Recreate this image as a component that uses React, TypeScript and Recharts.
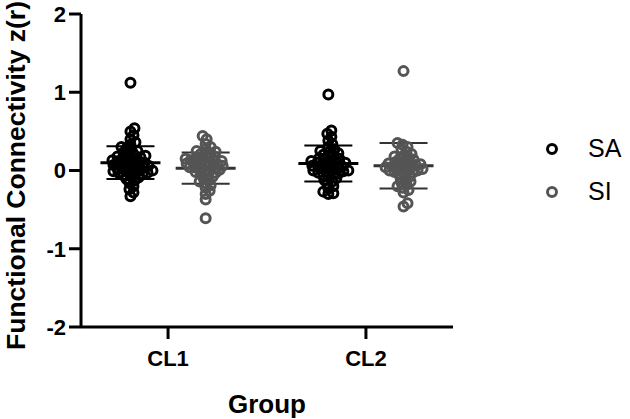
import React from "react";
import { ScatterChart, Scatter, XAxis, YAxis, ErrorBar, Legend } from "recharts";

// ---- data ----
const categories = ["CL1", "CL2"];
const seriesNames = ["SA", "SI"];
const yTicks = [-2, -1, 0, 1, 2];

const cl1SA = [1.12, 0.54, 0.5, 0.45, 0.4, 0.36, 0.33, 0.3, 0.28, 0.27, 0.25, 0.23, 0.22, 0.21, 0.19, 0.18, 0.17, 0.16, 0.15, 0.14, 0.13, 0.12, 0.11, 0.1, 0.1, 0.09, 0.08, 0.07, 0.06, 0.05, 0.05, 0.04, 0.03, 0.02, 0.01, 0.0, 0.0, -0.01, -0.02, -0.03, -0.03, -0.04, -0.05, -0.06, -0.07, -0.09, -0.11, -0.13, -0.16, -0.2, -0.24, -0.28, -0.33];
const cl1SI = [0.44, 0.4, 0.34, 0.3, 0.27, 0.25, 0.24, 0.22, 0.21, 0.2, 0.18, 0.17, 0.16, 0.15, 0.14, 0.13, 0.12, 0.12, 0.11, 0.1, 0.09, 0.08, 0.08, 0.07, 0.06, 0.05, 0.04, 0.04, 0.03, 0.02, 0.01, 0.0, -0.01, -0.02, -0.03, -0.05, -0.06, -0.08, -0.1, -0.12, -0.14, -0.16, -0.19, -0.22, -0.26, -0.3, -0.37, -0.61];
const cl2SA = [0.97, 0.51, 0.47, 0.43, 0.38, 0.34, 0.3, 0.27, 0.25, 0.24, 0.22, 0.2, 0.19, 0.18, 0.16, 0.15, 0.14, 0.13, 0.12, 0.11, 0.1, 0.1, 0.09, 0.08, 0.07, 0.06, 0.05, 0.05, 0.04, 0.03, 0.02, 0.01, 0.0, 0.0, -0.01, -0.02, -0.03, -0.04, -0.05, -0.06, -0.08, -0.1, -0.12, -0.14, -0.17, -0.2, -0.23, -0.27, -0.29, -0.3];
const cl2SI = [1.27, 0.35, 0.33, 0.3, 0.27, 0.24, 0.21, 0.19, 0.18, 0.16, 0.15, 0.14, 0.12, 0.11, 0.1, 0.09, 0.08, 0.08, 0.07, 0.06, 0.05, 0.04, 0.04, 0.03, 0.02, 0.01, 0.0, 0.0, -0.01, -0.02, -0.03, -0.04, -0.06, -0.08, -0.1, -0.12, -0.14, -0.16, -0.18, -0.2, -0.22, -0.25, -0.28, -0.42, -0.46];

const meanSA = [0.1, 0.09];
const sdSA = [0.21, 0.23];
const meanSI = [0.03, 0.06];
const sdSI = [0.2, 0.29];

// ---- layout ----
const W = 630;
const H = 419;
const MARGIN = { top: 14, right: 177, bottom: 0, left: 0 };
const Y_AXIS_W = 81;
const X_AXIS_H = 92;
const X_DOMAIN: [number, number] = [0.56, 2.44];
const Y_DOMAIN: [number, number] = [-2, 2];
const PLOT_W = W - MARGIN.left - MARGIN.right - Y_AXIS_W;
const PLOT_H = H - MARGIN.top - MARGIN.bottom - X_AXIS_H;
const X_PX = PLOT_W / (X_DOMAIN[1] - X_DOMAIN[0]);
const Y_PX = PLOT_H / (Y_DOMAIN[1] - Y_DOMAIN[0]);
const GROUP_OFFSET = 0.19;
const FONT = "'Liberation Sans', Arial, Helvetica, sans-serif";
const COLORS = ["#000000", "#555555"];
const MEAN_COLORS = ["#000000", "#333333"];

function swarm(values: number[], minDist: number): number[] {
  const order = values.map((_, i) => i).sort((a, b) => values[a] - values[b]);
  const placed: { x: number; y: number }[] = [];
  const offs = new Array(values.length).fill(0);
  for (const i of order) {
    const py = values[i] * Y_PX;
    let best = 0;
    for (let k = 0; k < 80; k++) {
      const cand = k === 0 ? 0 : k % 2 ? Math.ceil(k / 2) : -Math.ceil(k / 2);
      const ok = placed.every((p) => (p.x - cand) ** 2 + (p.y - py) ** 2 >= minDist * minDist);
      if (ok) {
        best = cand;
        break;
      }
    }
    placed.push({ x: best, y: py });
    offs[i] = best;
  }
  return offs;
}

function buildPoints(groups: number[][], side: number) {
  const out: { x: number; y: number }[] = [];
  groups.forEach((vals, gi) => {
    const offs = swarm(vals, 4.8);
    vals.forEach((v, i) => {
      out.push({ x: gi + 1 + side * GROUP_OFFSET + offs[i] / X_PX, y: v });
    });
  });
  return out;
}

const pointsSA = buildPoints([cl1SA, cl2SA], -1);
const pointsSI = buildPoints([cl1SI, cl2SI], 1);
const meanDataSA = meanSA.map((m, i) => ({ x: i + 1 - GROUP_OFFSET, y: m, err: sdSA[i] }));
const meanDataSI = meanSI.map((m, i) => ({ x: i + 1 + GROUP_OFFSET, y: m, err: sdSI[i] }));

const ringShape = (color: string) => (props: any) => (
  <circle cx={props.cx} cy={props.cy} r={4.5} fill="none" stroke={color} strokeWidth={3} />
);
const meanShape = (color: string) => (props: any) => (
  <line x1={props.cx - 30} x2={props.cx + 30} y1={props.cy} y2={props.cy} stroke={color} strokeWidth={3} />
);

const LegendContent = () => (
  <div style={{ fontFamily: FONT, fontSize: 25, color: "#000" }}>
    {seriesNames.map((s, i) => (
      <div key={s} style={{ display: "flex", alignItems: "center", height: 43 }}>
        <svg width={48} height={14} style={{ display: "block" }}>
          <circle cx={12} cy={7} r={4.5} fill="none" stroke={COLORS[i]} strokeWidth={3} />
        </svg>
        <span style={{ lineHeight: "43px" }}>{s}</span>
      </div>
    ))}
  </div>
);

const YLabel = () => {
  const cx = 16;
  const cy = MARGIN.top + PLOT_H / 2 + 5;
  return (
    <text
      x={cx}
      y={cy}
      transform={`rotate(-90, ${cx}, ${cy})`}
      textAnchor="middle"
      dominantBaseline="central"
      fontFamily={FONT}
      fontWeight="bold"
      fontSize={26.5}
      fill="#000"
    >
      Functional Connectivity z(r)
    </text>
  );
};

export default function App() {
  return (
    <div style={{ position: "absolute", left: 0, top: 0, width: W, height: H, background: "#fff" }}>
      <ScatterChart width={W} height={H} margin={MARGIN}>
        <XAxis
          type="number"
          dataKey="x"
          domain={X_DOMAIN}
          ticks={[1, 2]}
          tickFormatter={(v: number) => categories[Math.round(v) - 1] ?? ""}
          height={X_AXIS_H}
          allowDataOverflow
          axisLine={{ stroke: "#000", strokeWidth: 3 }}
          tickLine={{ stroke: "#000", strokeWidth: 3 }}
          tickSize={12}
          tickMargin={11}
          tick={{ fill: "#000", fontFamily: FONT, fontWeight: "bold", fontSize: 22 }}
          label={{
            value: "Group",
            position: "insideBottom",
            offset: 6,
            fill: "#000",
            fontFamily: FONT,
            fontWeight: "bold",
            fontSize: 26,
          }}
        />
        <YAxis
          type="number"
          dataKey="y"
          domain={Y_DOMAIN}
          ticks={yTicks}
          width={Y_AXIS_W}
          allowDataOverflow
          axisLine={{ stroke: "#000", strokeWidth: 3 }}
          tickLine={{ stroke: "#000", strokeWidth: 3 }}
          tickSize={12}
          tickMargin={3}
          tick={{ fill: "#000", fontFamily: FONT, fontWeight: "bold", fontSize: 22 }}
          label={<YLabel />}
        />
        <Legend
          layout="horizontal"
          verticalAlign="middle"
          align="center"
          content={<LegendContent />}
          wrapperStyle={{ position: "absolute", left: 540, top: 127, width: 90, height: 90 }}
        />
        <Scatter
          name="SA mean"
          data={meanDataSA}
          shape={meanShape(MEAN_COLORS[0])}
          isAnimationActive={false}
          legendType="none"
        >
          <ErrorBar dataKey="err" direction="y" width={24} stroke={MEAN_COLORS[0]} strokeWidth={2} />
        </Scatter>
        <Scatter
          name="SI mean"
          data={meanDataSI}
          shape={meanShape(MEAN_COLORS[1])}
          isAnimationActive={false}
          legendType="none"
        >
          <ErrorBar dataKey="err" direction="y" width={24} stroke={MEAN_COLORS[1]} strokeWidth={2} />
        </Scatter>
        <Scatter name={seriesNames[0]} data={pointsSA} shape={ringShape(COLORS[0])} isAnimationActive={false} />
        <Scatter name={seriesNames[1]} data={pointsSI} shape={ringShape(COLORS[1])} isAnimationActive={false} />
      </ScatterChart>
    </div>
  );
}
